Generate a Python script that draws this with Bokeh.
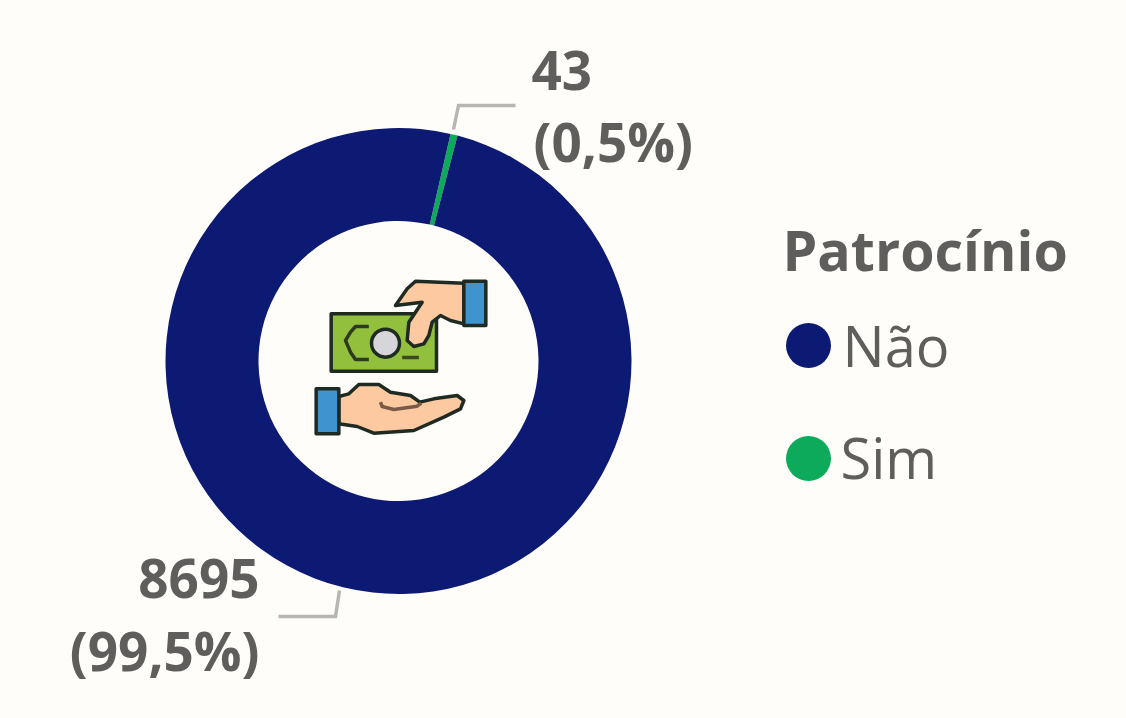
import math
from bokeh.plotting import figure
from bokeh.embed import file_html
from bokeh.resources import INLINE
from bokeh.core.properties import value

categories = ["Não", "Sim"]
counts = [8695, 43]
value_labels = ["8695", "43"]
pct_labels = ["(99,5%)", "(0,5%)"]
colors = ["#0d1a73", "#0eaa5b"]
legend_title = "Patrocínio"

BG = "#fffdf9"
TXT = "#605e5c"
W, H = 1126, 718
FONT = value("Open Sans")

p = figure(width=W, height=H, x_range=(0, W), y_range=(0, H), toolbar_location=None,
           output_backend="svg", min_border=0, background_fill_color=BG,
           border_fill_color=BG, outline_line_color=None)
p.axis.visible = False
p.grid.visible = False

def X(v): return v
def Y(v): return H - v

# donut
cx, cy, r_out, r_in = 398, 360.5, 233, 140
total = sum(counts)
rotation = 12.9  # degrees clockwise from the top where "Sim" begins
order = [1, 0]
a = rotation
for i in order:
    sweep = counts[i] / total * 360
    start = math.radians(90 - a - sweep)
    end = math.radians(90 - a)
    p.annular_wedge(x=[X(cx)], y=[Y(cy)], inner_radius=r_in, outer_radius=r_out,
                    start_angle=start, end_angle=end, fill_color=colors[i], line_color=None)
    a += sweep

# leader lines
def polyline(pts, color, w, cap="butt"):
    p.line([X(q[0]) for q in pts], [Y(q[1]) for q in pts], line_color=color, line_width=w,
           line_join="miter", line_cap=cap)

LEAD = "#b8b6b2"
polyline([(453, 129), (458, 105), (515, 105)], LEAD, 3.5)
polyline([(339, 590), (335, 616), (278, 616)], LEAD, 3.5)

BASE_FIX = 0.41  # the svg text sits this many ems under its alphabetic anchor

def label(px, py, s, size, align="left", bold=False):
    p.text([X(px)], [Y(py)], text=[s], text_font=FONT, text_font_size=f"{size}px",
           text_color=TXT, text_align=align, text_baseline="alphabetic",
           y_offset=-BASE_FIX * size,
           text_font_style="bold" if bold else "normal")

label(531, 92, value_labels[1], 53, bold=True)
label(533, 163, pct_labels[1], 53, bold=True)
label(259, 600, value_labels[0], 53, "right", True)
label(259, 672, pct_labels[0], 53, "right", True)

# legend
label(782, 272, legend_title, 55.5, bold=True)
p.circle([X(808)], [Y(345)], radius=22.5, fill_color=colors[0], line_color=None)
p.circle([X(808)], [Y(458)], radius=22.5, fill_color=colors[1], line_color=None)
label(842, 367, categories[0], 56)
label(840, 479, categories[1], 56)

# icon, outlined in crop units (1/3 px from 300,260)
def zx(v): return X(300 + v / 3)
def zy(v): return Y(260 + v / 3)
INK = "#1e2a22"
def poly(pts, fill, ink=INK, w=3.5):
    p.patch([zx(q[0]) for q in pts], [zy(q[1]) for q in pts], fill_color=fill,
            line_color=ink, line_width=w, line_join="round")
def stroke(pts, ink=INK, w=3.5):
    p.line([zx(q[0]) for q in pts], [zy(q[1]) for q in pts], line_color=ink, line_width=w,
           line_join="round")

bill = [(92, 160), (408, 160), (408, 332), (92, 332)]
poly(bill, "#93c03c")
stroke([(205, 198), (165, 198), (150, 215), (135, 240), (150, 275), (165, 297), (205, 297)], "#2e3a1e")
stroke([(305, 291), (355, 291)], "#3a4a22")
p.circle([zx(255)], [zy(248)], radius=14, fill_color="#d6d6da", line_color=INK, line_width=3.5)

upper_hand = [(490, 68), (345, 62), (320, 85), (285, 135), (365, 125), (325, 185), (320, 240),
              (340, 258), (370, 250), (385, 225), (395, 185), (420, 165), (450, 180), (490, 190)]
poly(upper_hand, "#fdc9a0")
poly([(490, 62), (556, 62), (556, 195), (490, 195)], "#3f94d0")

lower_hand = [(115, 408), (145, 400), (175, 372), (235, 372), (270, 395), (330, 405), (358, 425),
              (400, 415), (470, 405), (490, 420), (480, 445), (430, 470), (340, 510), (220, 518),
              (170, 498), (115, 490)]
poly(lower_hand, "#fdc9a0")
stroke([(240, 425), (245, 438), (280, 447), (350, 437), (362, 428)], "#7a5a48")
poly([(47, 385), (115, 385), (115, 520), (47, 520)], "#3f94d0")

html = file_html(p, INLINE).replace("<body>", f'<body style="background:{BG}">')
open("out.html", "w").write(html)
